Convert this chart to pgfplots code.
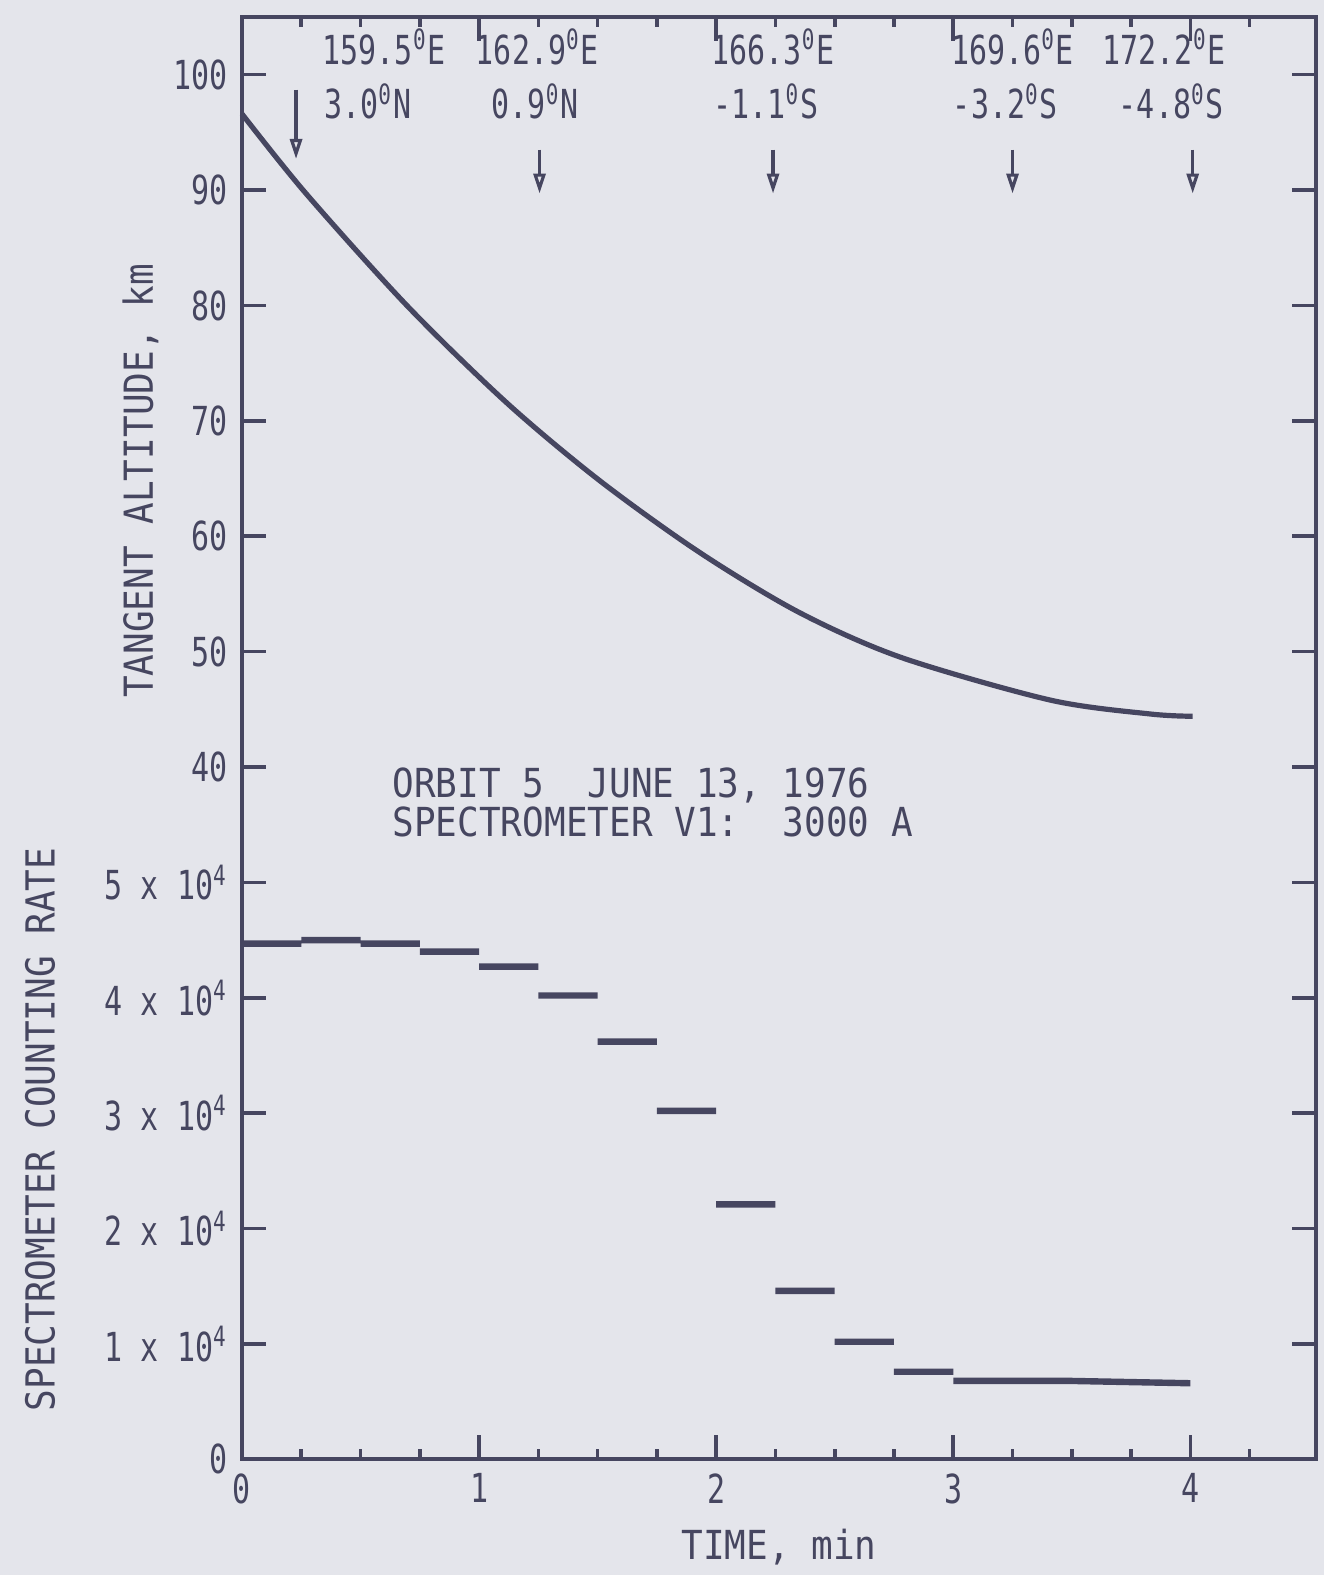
\documentclass[border=0pt]{standalone}
\usepackage{fontspec}
\setmainfont{DejaVu Sans Mono}[FakeStretch=0.9]
\newfontfamily\tickfont{DejaVu Sans Mono}[FakeStretch=0.75]
\usepackage{pgfplots}
\usepackage{pgfplotstable}
\pgfplotsset{compat=1.18}
\usetikzlibrary{arrows.meta}

\definecolor{ink}{RGB}{70,70,96}
\definecolor{paper}{RGB}{228,229,235}

% tangent altitude (km)
\pgfplotstableread{
t    alt
0.00 96.6
0.27 89.7
0.70 79.9
1.12 71.5
1.51 64.8
1.93 58.6
2.35 53.4
2.78 49.5
3.41 45.8
3.83 44.6
4.01 44.4
}\altitude

\begin{document}
\begin{tikzpicture}
\path[use as bounding box, fill=paper] (-60.5pt,-28.9pt) rectangle (270.5pt,364.85pt);
\begin{axis}[
    at={(0,0)}, anchor=south west,
    scale only axis, width=268.5pt, height=360.6pt,
    xmin=0, xmax=4.53, ymin=0, ymax=12.5,
    clip=false,
    axis line style={ink, line width=1pt},
    tick style={ink, line width=0.9pt},
    major tick length=6pt, minor tick length=2.5pt,
    tick align=inside,
    xtick={0,1,2,3,4},
    xticklabels={0,1,2,3,4},
    minor xtick={0.25,0.5,0.75,1.25,1.5,1.75,2.25,2.5,2.75,3.25,3.5,3.75,4.25},
    ytick={0,1,2,3,4,5,6,7,8,9,10,11,12},
    yticklabels={0,
        1 x 10\textsuperscript{4}, 2 x 10\textsuperscript{4},
        3 x 10\textsuperscript{4}, 4 x 10\textsuperscript{4},
        5 x 10\textsuperscript{4},
        40, 50, 60, 70, 80, 90, 100},
    ticklabel style={font=\tickfont, text=ink},
    xlabel={TIME, min},
    xlabel style={at={(axis description cs:0.5,0)}, anchor=center, yshift=-21.9pt, text=ink},
]
% altitude curve, plotted on the shared scale (40 km at 6, 100 km at 12)
\addplot[ink, line width=1.3pt, smooth]
    table[x=t, y expr=\thisrow{alt}/10+2] {\altitude};

% counting rate, units of 10^4, one level per quarter minute
\addplot[ink, line width=1.6pt, unbounded coords=jump] coordinates {
    (0.00,4.47) (0.25,4.47) (0.25,nan)
    (0.25,4.50) (0.50,4.50) (0.50,nan)
    (0.50,4.47) (0.75,4.47) (0.75,nan)
    (0.75,4.40) (1.00,4.40) (1.00,nan)
    (1.00,4.27) (1.25,4.27) (1.25,nan)
    (1.25,4.02) (1.50,4.02) (1.50,nan)
    (1.50,3.62) (1.75,3.62) (1.75,nan)
    (1.75,3.02) (2.00,3.02) (2.00,nan)
    (2.00,2.21) (2.25,2.21) (2.25,nan)
    (2.25,1.46) (2.50,1.46) (2.50,nan)
    (2.50,1.02) (2.75,1.02) (2.75,nan)
    (2.75,0.76) (3.00,0.76) (3.00,nan)
    (3.00,0.68) (3.50,0.68) (4.00,0.66)
};

% position annotations along the top
\begin{scope}[every node/.style={text=ink, inner sep=0pt, anchor=base, font=\tickfont}]
\node at (axis cs:0.60,12.09) {159.5\textsuperscript{0}E};
\node at (axis cs:0.53,11.62) {3.0\textsuperscript{0}N};
\node at (axis cs:1.246,12.09) {162.9\textsuperscript{0}E};
\node at (axis cs:1.236,11.62) {0.9\textsuperscript{0}N};
\node at (axis cs:2.24,12.09) {166.3\textsuperscript{0}E};
\node at (axis cs:2.21,11.62) {-1.1\textsuperscript{0}S};
\node at (axis cs:3.25,12.09) {169.6\textsuperscript{0}E};
\node at (axis cs:3.22,11.62) {-3.2\textsuperscript{0}S};
\node at (axis cs:3.89,12.09) {172.2\textsuperscript{0}E};
\node at (axis cs:3.92,11.62) {-4.8\textsuperscript{0}S};
\end{scope}
\begin{scope}[ink, line width=0.8pt, -{Triangle[open, length=5pt, width=3pt]}]
\draw (axis cs:0.228,11.87) -- (axis cs:0.228,11.27);
\draw (axis cs:1.255,11.35) -- (axis cs:1.255,10.97);
\draw (axis cs:2.24,11.35) -- (axis cs:2.24,10.97);
\draw (axis cs:3.25,11.35) -- (axis cs:3.25,10.97);
\draw (axis cs:4.01,11.35) -- (axis cs:4.01,10.97);
\end{scope}

\node[text=ink, inner sep=0pt, anchor=base west] at (axis cs:0.632,5.74) {ORBIT 5\ \ JUNE 13, 1976};
\node[text=ink, inner sep=0pt, anchor=base west] at (axis cs:0.632,5.40) {SPECTROMETER V1:\ \ 3000 A};
\end{axis}
\node[rotate=90, text=ink] at (-25.4pt,244.6pt) {TANGENT ALTITUDE, km};
\node[rotate=90, text=ink] at (-50.5pt,82.5pt) {SPECTROMETER COUNTING RATE};
\end{tikzpicture}
\end{document}
